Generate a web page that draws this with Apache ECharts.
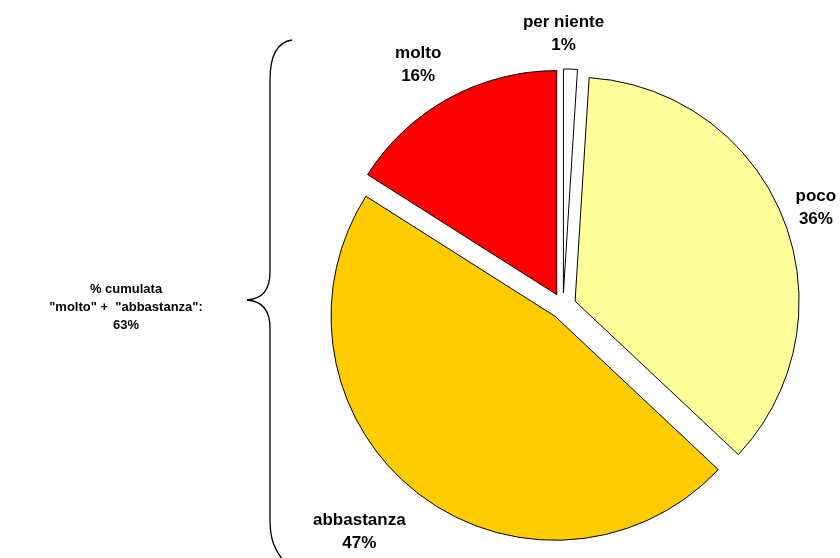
<!DOCTYPE html>
<html>
<head>
<meta charset="utf-8">
<script src="https://cdn.jsdelivr.net/npm/echarts@6/dist/echarts.min.js"></script>
<style>
  html, body { margin: 0; padding: 0; background: #ffffff; }
  #chart { width: 840px; height: 558px; }
</style>
</head>
<body>
<div id="chart"></div>
<script>
// Slices in clockwise order from 12 o'clock
const categories = ['per niente', 'poco', 'abbastanza', 'molto'];
const values = [1, 36, 47, 16];
const colors = ['#FFFFFF', '#FFFF99', '#FFCC00', '#FF0000'];

// Label placement: radial distance from pie centre, plus a small nudge
const labelDistance = [271, 272, 303, 282];
const labelNudge = [[-8, -1], [0, 2], [-18, -14], [-9, 6]];

const FONT = '"Liberation Sans", Arial, sans-serif';
const CX = 563, CY = 306, R = 224, OFFSET = 13;

const total = values.reduce((a, b) => a + b, 0);
const midFraction = [];
let acc = 0;
values.forEach(v => { midFraction.push((acc + v / 2) / total); acc += v; });

const cumulated = values[categories.indexOf('molto')] + values[categories.indexOf('abbastanza')];

// Slice labels: name over percentage, centred on the slice's bisector
const sliceLabels = categories.map((name, i) => {
  const a = midFraction[i] * 2 * Math.PI;
  const d = labelDistance[i];
  return {
    type: 'text',
    x: CX + Math.sin(a) * d + labelNudge[i][0],
    y: CY - Math.cos(a) * d + labelNudge[i][1],
    style: {
      text: name + '\n' + Math.round(values[i] / total * 100) + '%',
      align: 'center',
      verticalAlign: 'middle',
      fontFamily: FONT,
      fontWeight: 'bold',
      fontSize: 17,
      lineHeight: 23,
      fill: '#000000'
    }
  };
});

// Curly brace on the left, built from bezier segments and straight lines
const braceStyle = { stroke: '#000000', lineWidth: 1.3, fill: null };
function curve(x1, y1, cx1, cy1, cx2, cy2, x2, y2) {
  return { type: 'bezierCurve', shape: { x1, y1, cpx1: cx1, cpy1: cy1, cpx2: cx2, cpy2: cy2, x2, y2 }, style: braceStyle };
}
function seg(x1, y1, x2, y2) {
  return { type: 'line', shape: { x1, y1, x2, y2 }, style: braceStyle };
}

const chart = echarts.init(document.getElementById('chart'), null, { renderer: 'canvas' });

chart.setOption({
  animation: false,
  backgroundColor: '#ffffff',
  series: [{
    type: 'pie',
    center: [CX, CY],
    radius: [0, R],
    startAngle: 90,
    clockwise: true,
    selectedMode: 'multiple',
    selectedOffset: OFFSET,
    avoidLabelOverlap: false,
    emphasis: { disabled: true },
    itemStyle: { borderColor: '#000000', borderWidth: 1 },
    select: { itemStyle: { borderColor: '#000000', borderWidth: 1 } },
    label: { show: false },
    labelLine: { show: false },
    data: categories.map((name, i) => ({
      name: name,
      value: values[i],
      selected: true,
      itemStyle: { color: colors[i] },
      select: { itemStyle: { color: colors[i] } }
    }))
  }],
  graphic: [
    curve(292, 40, 278, 42, 270, 55, 270, 80),
    seg(270, 80, 270, 272),
    curve(270, 272, 270, 290, 262, 299, 247, 300),
    curve(247, 300, 262, 301, 270, 310, 270, 328),
    seg(270, 328, 270, 520),
    curve(270, 520, 270, 540, 275, 550, 283, 560),
    {
      type: 'text',
      x: 126,
      y: 307,
      style: {
        text: '% cumulata\n"molto" +  "abbastanza":\n' + cumulated + '%',
        align: 'center',
        verticalAlign: 'middle',
        fontFamily: FONT,
        fontWeight: 'bold',
        fontSize: 13,
        lineHeight: 18,
        fill: '#000000'
      }
    }
  ].concat(sliceLabels)
});
</script>
</body>
</html>
